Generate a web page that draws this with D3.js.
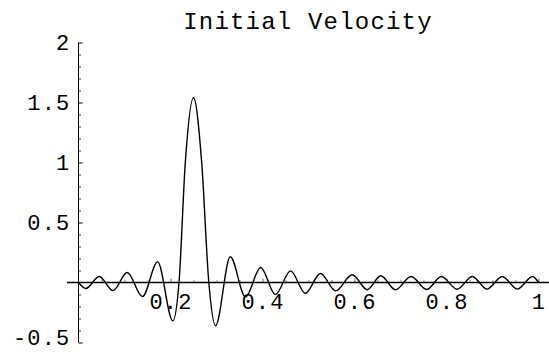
<!DOCTYPE html>
<html>
<head>
<meta charset="utf-8">
<script src="https://cdn.jsdelivr.net/npm/d3@7/dist/d3.min.js"></script>
<style>
  html, body { margin: 0; padding: 0; background: #fff; }
  svg { display: block; }
  text { font-family: "Liberation Mono", "Courier New", monospace; fill: #000; }
</style>
</head>
<body>
<svg id="chart" width="549" height="352"></svg>
<script>
// values: extrema and zero crossings of the curve
const velX = [0, 0.016, 0.045, 0.075, 0.106, 0.139, 0.172, 0.205, 0.2185, 0.2322, 0.25, 0.2678, 0.2833, 0.298,
  0.330, 0.363, 0.396, 0.428, 0.461, 0.493, 0.526, 0.559, 0.595, 0.628, 0.657, 0.689, 0.723, 0.757,
  0.789, 0.823, 0.856, 0.888, 0.921, 0.954, 0.987, 1.0];
const velY = [0, -0.05, 0.05, -0.067, 0.083, -0.117, 0.172, -0.32, 0, 1.0, 1.54, 1.0, 0, -0.36,
  0.214, -0.12, 0.125, -0.10, 0.097, -0.09, 0.075, -0.07, 0.064, -0.06, 0.056, -0.06, 0.05, -0.058,
  0.05, -0.056, 0.05, -0.055, 0.05, -0.055, 0.05, 0];

const xMajor = [0.2, 0.4, 0.6, 0.8, 1];
const yMajor = [-0.5, 0.5, 1, 1.5, 2];
const title = 'Initial Velocity';

const svg = d3.select('#chart');
const x = d3.scaleLinear().domain([0, 1]).range([78.5, 538.5]);
const y = d3.scaleLinear().domain([-0.5, 2]).range([342.5, 42.5]);
const x0 = x(0), y0 = y(0);

// 제목
svg.append('text').attr('x', 308).attr('y', 29).attr('text-anchor', 'middle')
  .attr('font-size', 24).attr('letter-spacing', 1.2).text(title);

// x minor ticks
const xMinor = d3.range(0.05, 1.001, 0.05).filter(v => !xMajor.some(m => Math.abs(m - v) < 1e-6));
svg.append('g').attr('transform', `translate(0,${y0})`)
  .call(d3.axisBottom(x).tickValues(xMinor).tickSize(-2.5).tickFormat(''))
  .call(g => g.select('.domain').remove())
  .call(g => g.selectAll('line').attr('stroke', '#888'));

// x major ticks + labels
svg.append('g').attr('transform', `translate(0,${y0})`)
  .call(d3.axisBottom(x).tickValues(xMajor).tickSize(-4).tickPadding(11)
    .tickFormat(d => d === 1 ? '1' : d.toFixed(1)))
  .call(g => g.select('.domain').remove())
  .call(g => g.selectAll('line').attr('stroke', '#666'))
  .call(g => g.selectAll('text').attr('font-size', 22).attr('letter-spacing', 1.2)
    .attr('font-family', '"Liberation Mono", monospace').attr('fill', '#000'));

// y minor ticks
const yMinor = d3.range(-0.5, 2.001, 0.1).filter(v => Math.abs(v * 2 - Math.round(v * 2)) > 1e-6);
svg.append('g').attr('transform', `translate(${x0},0)`)
  .call(d3.axisLeft(y).tickValues(yMinor).tickSize(-2.5).tickFormat(''))
  .call(g => g.select('.domain').remove())
  .call(g => g.selectAll('line').attr('stroke', '#333'));

// y major ticks + labels (bottom label nudged up so it stays inside)
svg.append('g').attr('transform', `translate(${x0},0)`)
  .call(d3.axisLeft(y).tickValues(yMajor).tickSize(-4).tickPadding(8)
    .tickFormat(d => String(d)))
  .call(g => g.select('.domain').remove())
  .call(g => g.selectAll('line').attr('stroke', '#000'))
  .call(g => g.selectAll('text').attr('font-size', 22).attr('letter-spacing', 1.2)
    .attr('font-family', '"Liberation Mono", monospace').attr('fill', '#000')
    .attr('y', d => d === -0.5 ? -5 : 0));

// axis lines
svg.append('line').attr('x1', x0).attr('x2', x0).attr('y1', y(2)).attr('y2', y(-0.5))
  .attr('stroke', '#000').attr('stroke-width', 1);
svg.append('line').attr('x1', 67).attr('x2', 549).attr('y1', y0).attr('y2', y0)
  .attr('stroke', '#000').attr('stroke-width', 1.6);

// curve
const pts = velX.map((v, i) => [v, velY[i]]);
svg.append('path').datum(pts)
  .attr('fill', 'none').attr('stroke', '#000').attr('stroke-width', 1.4)
  .attr('d', d3.line().x(d => x(d[0])).y(d => y(d[1])).curve(d3.curveMonotoneX));
</script>
</body>
</html>
